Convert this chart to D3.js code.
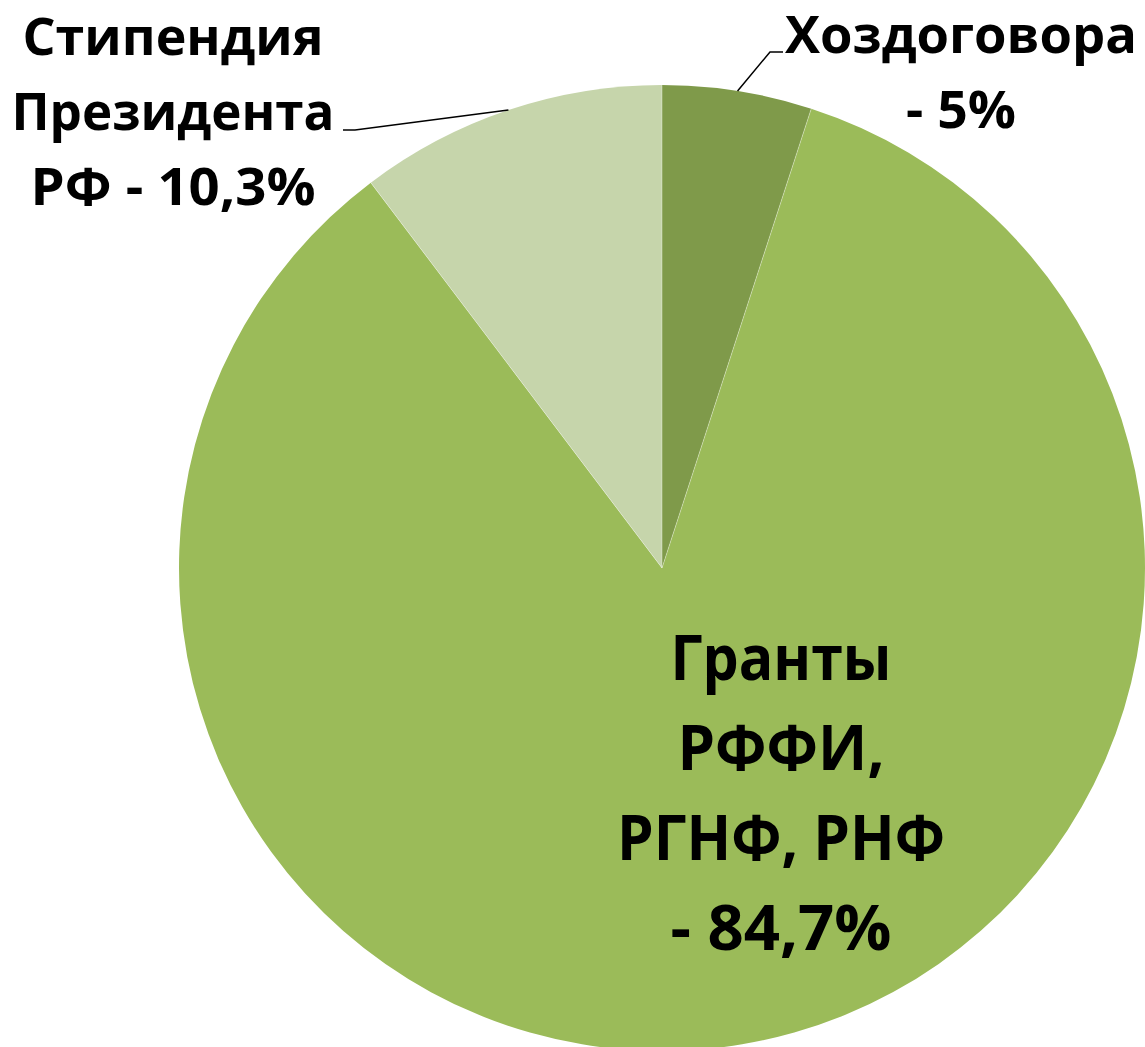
<!DOCTYPE html>
<html>
<head>
<meta charset="utf-8">
<script src="https://cdn.jsdelivr.net/npm/d3@7"></script>
<style>
  html, body { margin: 0; padding: 0; background: #fff; }
  svg { display: block; }
  .lbl { font-family: "Open Sans", "Noto Sans", sans-serif; font-weight: 700; fill: #000; }
</style>
</head>
<body>
<script>
// Data
var categories = ["Хоздоговора", "Гранты РФФИ, РГНФ, РНФ", "Стипендия Президента РФ"];
var values = [5, 84.7, 10.3];
var colors = ["#7f9a4a", "#9bbb59", "#c6d5ab"];
// label lines as they appear on the chart
var labelLines = [
  ["Хоздоговора", "- 5%"],
  ["Гранты", "РФФИ,", "РГНФ, РНФ", "- 84,7%"],
  ["Стипендия", "Президента", "РФ - 10,3%"]
];

var width = 1145, height = 1047;
var cx = 662, cy = 568, radius = 483;

var svg = d3.select("body").append("svg")
    .attr("width", width)
    .attr("height", height);

var g = svg.append("g")
    .attr("transform", "translate(" + cx + "," + cy + ")");

var pie = d3.pie().sort(null).value(function(d) { return d; });
var arc = d3.arc().innerRadius(0).outerRadius(radius);
var arcs = pie(values);

g.selectAll("path.slice")
    .data(arcs)
  .enter().append("path")
    .attr("class", "slice")
    .attr("d", arc)
    .attr("fill", function(d, i) { return colors[i]; })
    .attr("stroke", "none");

// thin light separators like the original
g.selectAll("line.sep")
    .data(arcs)
  .enter().append("line")
    .attr("x1", 0).attr("y1", 0)
    .attr("x2", function(d) { return radius * Math.sin(d.startAngle); })
    .attr("y2", function(d) { return -radius * Math.cos(d.startAngle); })
    .attr("stroke", "#ffffff")
    .attr("stroke-opacity", 0.35)
    .attr("stroke-width", 1);

// label settings: [center x, first baseline, line step, font size, widths per line]
var labelSpec = [
  { x: 961, y: 53, step: 75, size: 52, widths: [352, 110], elbow: [770, 52], end: [783, 52] },
  { x: 781, y: 680, step: 90, size: 62, widths: [221, 207, 328, 221] },
  { x: 173, y: 55, step: 75, size: 52, widths: [301, 323, 285], elbow: [355, 130], end: [343, 130] }
];

arcs.forEach(function(d, i) {
  var s = labelSpec[i];
  var t = svg.append("text")
      .attr("class", "lbl")
      .attr("text-anchor", "middle")
      .style("font-size", s.size + "px");
  labelLines[i].forEach(function(line, j) {
    t.append("tspan")
      .attr("x", s.x)
      .attr("y", s.y + j * s.step)
      .attr("textLength", s.widths[j])
      .attr("lengthAdjust", "spacingAndGlyphs")
      .text(line);
  });

  if (s.elbow) {
    var mid = (d.startAngle + d.endAngle) / 2;
    var px = cx + radius * Math.sin(mid), py = cy - radius * Math.cos(mid);
    svg.append("polyline")
      .attr("points", [[px, py], s.elbow, s.end].map(function(p) { return p.join(","); }).join(" "))
      .attr("fill", "none")
      .attr("stroke", "#000")
      .attr("stroke-width", 1.5);
  }
});
</script>
</body>
</html>
